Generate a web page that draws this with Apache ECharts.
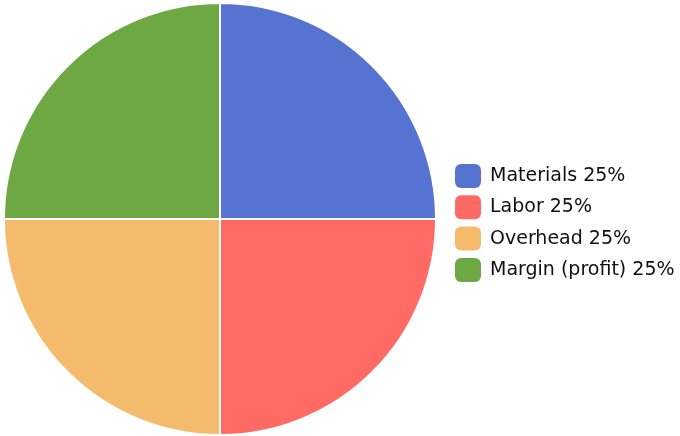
<!DOCTYPE html>
<html>
<head>
<meta charset="utf-8">
<script src="https://cdn.jsdelivr.net/npm/echarts@6/dist/echarts.min.js"></script>
<style>
  html, body { margin: 0; padding: 0; background: #ffffff; }
  #chart { width: 680px; height: 436px; }
</style>
</head>
<body>
<div id="chart"></div>
<script>
// Cost breakdown shares
const categories = ['Materials', 'Labor', 'Overhead', 'Margin (profit)'];
const shares = [25, 25, 25, 25];
const colors = ['#5673d1', '#ff6b64', '#f5bb6d', '#6ea842'];

const total = shares.reduce((a, b) => a + b, 0);
const pieData = categories.map((name, i) => ({ name: name, value: shares[i] }));

const chart = echarts.init(document.getElementById('chart'), null, { renderer: 'canvas' });
chart.setOption({
  animation: false,
  color: colors,
  legend: {
    orient: 'vertical',
    left: 455,
    top: 164,
    padding: 0,
    itemWidth: 26,
    itemHeight: 24,
    itemGap: 7.3,
    icon: 'roundRect',
    itemStyle: { borderWidth: 0 },
    textStyle: { fontFamily: 'DejaVu Sans', fontSize: 19, color: '#111111', padding: [0, 0, 0, 4] },
    formatter: function (name) {
      const i = categories.indexOf(name);
      return name + ' ' + Math.round(shares[i] / total * 100) + '%';
    }
  },
  series: [{
    type: 'pie',
    center: [220, 219],
    radius: 216,
    startAngle: 90,
    clockwise: true,
    label: { show: false },
    labelLine: { show: false },
    itemStyle: { borderColor: '#ffffff', borderWidth: 2 },
    emphasis: { disabled: true },
    data: pieData
  }]
});
</script>
</body>
</html>
